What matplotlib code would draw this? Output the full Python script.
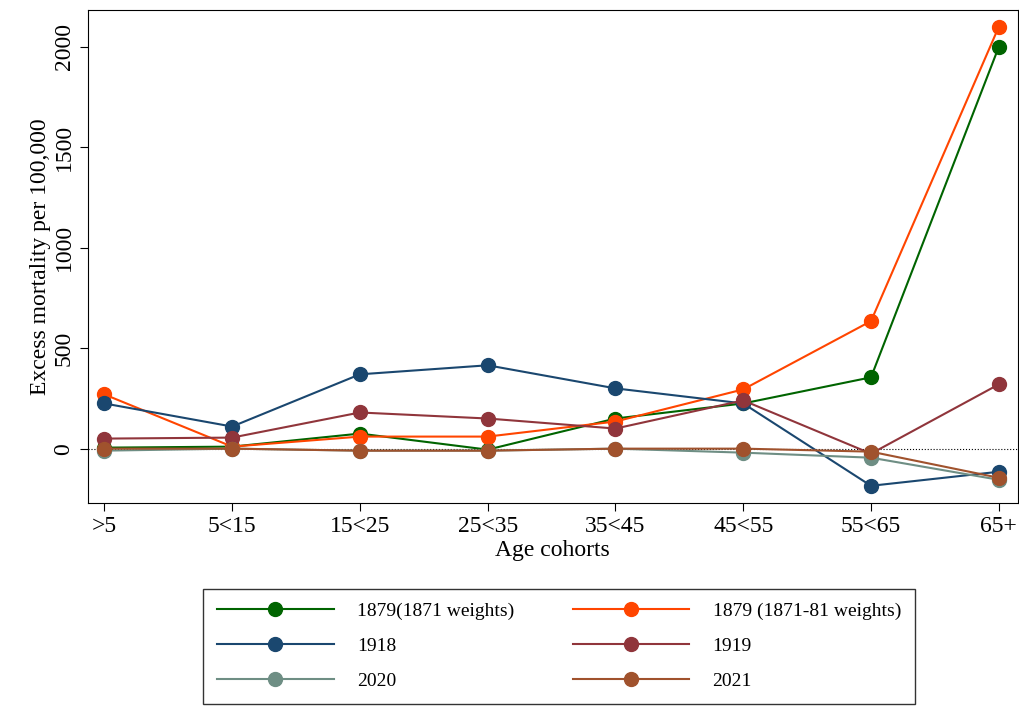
import matplotlib.pyplot as plt
import numpy as np

plt.rcParams['font.family'] = ['Liberation Serif', 'DejaVu Serif']

cohorts = ['>5', '5<15', '15<25', '25<35', '35<45', '45<55', '55<65', '65+']
names = ['1879(1871 weights)', '1879 (1871-81 weights)', '1918', '1919', '2020', '2021']
colors = ['#006400', '#ff4500', '#1a476f', '#90353b', '#6e8e84', '#a0522d']
s1879a = [5, 10, 75, -5, 150, 225, 355, 2000]
s1879b = [270, 10, 60, 60, 135, 295, 635, 2100]
s1918 = [225, 110, 370, 415, 300, 225, -185, -115]
s1919 = [50, 55, 180, 150, 100, 240, -25, 320]
s2020 = [-10, 0, -10, -10, 0, -20, -45, -155]
s2021 = [0, 0, -10, -10, 0, 0, -15, -145]
series = [s1879a, s1879b, s1918, s1919, s2020, s2021]

fig = plt.figure(figsize=(10.2, 7.1), dpi=100)
ax = fig.add_axes([0.086, 0.292, 0.912, 0.694])
x = np.arange(len(cohorts))
ax.axhline(0, color='black', lw=0.8, ls=':')
lines = []
for name, c, s in zip(names, colors, series):
    lines += ax.plot(x, s, '-o', color=c, lw=1.5, ms=10, label=name)
ax.set_xlim(-0.13, 7.15)
ax.set_ylim(-269, 2184)
ax.set_xticks(x)
ax.set_xticklabels(cohorts, fontsize=17)
ax.set_yticks([0, 500, 1000, 1500, 2000])
ax.set_yticklabels(['0', '500', '1000', '1500', '2000'], fontsize=17, rotation=90, va='center')
ax.set_xlabel('Age cohorts', fontsize=17, labelpad=2)
ax.set_ylabel('Excess mortality per 100,000', fontsize=17, labelpad=2)
ax.tick_params(length=6)
order = [0, 2, 4, 1, 3, 5]
fig.legend([lines[i] for i in order], [names[i] for i in order],
           loc='lower center', bbox_to_anchor=(0.548, -0.005), ncol=2, fontsize=14,
           frameon=True, fancybox=False, edgecolor='black', columnspacing=3,
           handlelength=6, borderpad=0.7, labelspacing=0.9, handletextpad=1.2)
fig.savefig('out.png')
